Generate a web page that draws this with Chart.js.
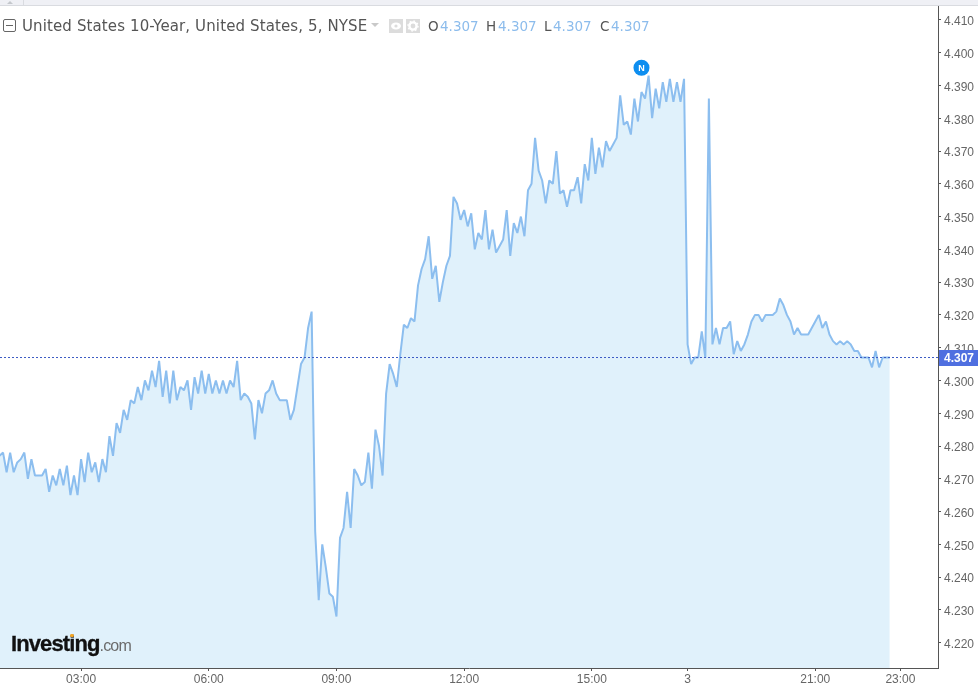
<!DOCTYPE html>
<html>
<head>
<meta charset="utf-8">
<title>United States 10-Year</title>
<script src="https://cdn.jsdelivr.net/npm/chart.js@4/dist/chart.umd.min.js"></script>
<style>
    html, body { margin: 0; padding: 0; background: #fff; overflow: hidden; }
    #wrap { position: relative; width: 978px; height: 685px; }
    canvas { position: absolute; left: 0; top: 0; }
    .topbar { position: absolute; left: 0; top: 0; width: 978px; height: 5px; background: #eff0f5; border-bottom: 1px solid #d9dbe0; }
    .topbar i { position: absolute; left: 23px; top: 0; width: 1px; height: 5px; background: #d9dbe0; }
    .topbar b { position: absolute; left: 7px; top: 1px; border: 3px solid transparent; border-top: 0; border-bottom: 3px solid #c4c7cc; }
    .head { position: absolute; top: 16px; height: 20px; line-height: 20px; font-family: "DejaVu Sans", sans-serif; font-size: 15px; letter-spacing: 0.12px; color: #555; white-space: nowrap; }
    .ohlc { font-size: 13.5px; letter-spacing: 0; }
    .val { color: #8cbcec; }
    .collapse { position: absolute; left: 3px; top: 19px; width: 11px; height: 11px; border: 1px solid #666; border-radius: 2px; }
    .collapse i { position: absolute; left: 2px; top: 5px; width: 7px; height: 1px; background: #666; }
    .caret { position: absolute; left: 371px; top: 23px; border: 4px solid transparent; border-top: 4px solid #c9c9c9; border-bottom: 0; }
    .btn { position: absolute; top: 19px; width: 14px; height: 14px; background: #dcdcdc; }
    .logo { position: absolute; left: 11px; top: 630px; height: 28px; line-height: 28px; white-space: nowrap; font-family: "Liberation Sans", sans-serif; }
    .logo .name { font-size: 22px; font-weight: bold; color: #111; letter-spacing: -0.9px; -webkit-text-stroke: 0.3px #111; }
    .logo .com { font-size: 16px; color: #6b6b6b; letter-spacing: -0.8px; }
    .logo .dot { position: absolute; left: 59px; top: 4px; width: 4px; height: 3px; background: #f5a623; border-radius: 2px; }
</style>
</head>
<body>
<div id="wrap">
    <canvas id="yieldChart" width="978" height="685"></canvas>
    <div class="topbar"><b></b><i></i></div>
    <div class="collapse"><i></i></div>
    <div class="head" style="left:22px">United States 10-Year, United States, 5, NYSE</div>
    <div class="caret"></div>
    <div class="btn" style="left:389px">
        <svg width="14" height="14"><ellipse cx="7" cy="7" rx="5" ry="3.5" fill="#fff"/><circle cx="7" cy="7" r="1.6" fill="#dcdcdc"/></svg>
    </div>
    <div class="btn" style="left:406px">
        <svg width="14" height="14"><circle cx="7" cy="7" r="3.6" fill="none" stroke="#fff" stroke-width="2.4"/><circle cx="7" cy="7" r="5" fill="none" stroke="#fff" stroke-width="1.4" stroke-dasharray="1.6 2.3"/></svg>
    </div>
    <div class="head ohlc" style="left:428px">O</div><div class="head ohlc val" style="left:440px">4.307</div>
    <div class="head ohlc" style="left:486px">H</div><div class="head ohlc val" style="left:498px">4.307</div>
    <div class="head ohlc" style="left:544px">L</div><div class="head ohlc val" style="left:553px">4.307</div>
    <div class="head ohlc" style="left:600px">C</div><div class="head ohlc val" style="left:611px">4.307</div>
    <div class="logo"><span class="name">Investing</span><span class="com">.com</span><div class="dot"></div></div>
</div>
<script>
// 5 minute closes, one per bar
const closeValues = [
    4.277, 4.278, 4.272, 4.278, 4.272, 4.275, 4.276, 4.278, 4.270, 4.276,
    4.271, 4.271, 4.271, 4.273, 4.266, 4.271, 4.268, 4.273, 4.268, 4.274,
    4.265, 4.271, 4.265, 4.276, 4.269, 4.278, 4.272, 4.275, 4.269, 4.276,
    4.272, 4.283, 4.277, 4.287, 4.284, 4.291, 4.288, 4.294, 4.293, 4.298,
    4.294, 4.300, 4.297, 4.303, 4.298, 4.306, 4.295, 4.303, 4.293, 4.303,
    4.294, 4.298, 4.297, 4.300, 4.291, 4.301, 4.296, 4.303, 4.296, 4.302,
    4.296, 4.300, 4.296, 4.300, 4.296, 4.300, 4.298, 4.306, 4.294, 4.296,
    4.295, 4.293, 4.282, 4.294, 4.290, 4.296, 4.297, 4.300, 4.296, 4.294,
    4.294, 4.294, 4.288, 4.291, 4.298, 4.305, 4.307, 4.316, 4.321, 4.254,
    4.233, 4.250, 4.243, 4.235, 4.234, 4.228, 4.252, 4.255, 4.266, 4.255,
    4.273, 4.271, 4.268, 4.269, 4.278, 4.267, 4.285, 4.280, 4.271, 4.296,
    4.305, 4.302, 4.298, 4.308, 4.317, 4.316, 4.319, 4.318, 4.329, 4.334,
    4.337, 4.344, 4.331, 4.335, 4.324, 4.330, 4.335, 4.338, 4.356, 4.354,
    4.349, 4.352, 4.347, 4.351, 4.340, 4.345, 4.343, 4.352, 4.340, 4.346,
    4.339, 4.341, 4.343, 4.352, 4.338, 4.348, 4.345, 4.350, 4.344, 4.358,
    4.360, 4.374, 4.364, 4.361, 4.354, 4.361, 4.360, 4.370, 4.357, 4.358,
    4.353, 4.358, 4.358, 4.362, 4.354, 4.366, 4.361, 4.374, 4.363, 4.371,
    4.365, 4.373, 4.370, 4.372, 4.374, 4.387, 4.378, 4.379, 4.375, 4.386,
    4.379, 4.388, 4.386, 4.393, 4.380, 4.389, 4.383, 4.391, 4.385, 4.392,
    4.385, 4.391, 4.385, 4.392, 4.311, 4.305, 4.307, 4.307, 4.315, 4.307,
    4.386, 4.311, 4.316, 4.311, 4.316, 4.316, 4.318, 4.308, 4.312, 4.309,
    4.311, 4.314, 4.318, 4.320, 4.320, 4.318, 4.320, 4.320, 4.320, 4.321,
    4.325, 4.323, 4.320, 4.318, 4.314, 4.316, 4.314, 4.314, 4.314, 4.316,
    4.318, 4.320, 4.316, 4.318, 4.314, 4.312, 4.311, 4.312, 4.311, 4.312,
    4.311, 4.309, 4.309, 4.307, 4.307, 4.307, 4.304, 4.309, 4.304, 4.307,
    4.307, 4.307
];

// time axis labels and the bar each one sits on
const xTickLabels = ['03:00', '06:00', '09:00', '12:00', '15:00', '3', '21:00', '23:00'];
const xTickBars = [23, 59, 95, 131, 167, 194, 230, 254];

const yTickValues = [4.22, 4.23, 4.24, 4.25, 4.26, 4.27, 4.28, 4.29, 4.30, 4.31, 4.32, 4.33, 4.34, 4.35, 4.36, 4.37, 4.38, 4.39, 4.40, 4.41];

const lastPrice = 4.307;
const newsBar = 181;
const newsLevel = 4.3954;

const xMin = 0.14, xMax = 264.6;
// range chosen so the last price line lands on a whole pixel row
const yMin = 4.21228, yMax = 4.41454;

// labels hanging over the ends must not shrink the plot
function noLabelPadding(s) {
    s.paddingLeft = s.paddingRight = s.paddingTop = s.paddingBottom = 0;
}

// price tag on the axis and the letter inside the news marker
const overlays = {
    id: 'overlays',
    afterDraw(chart) {
        const { ctx, scales: { x, y } } = chart;
        const py = Math.round(y.getPixelForValue(lastPrice));
        ctx.save();
        ctx.fillStyle = '#4f6fe0';
        ctx.fillRect(x.right + 1, py - 8, 39, 16);
        ctx.fillStyle = '#fff';
        ctx.font = 'bold 12px "Liberation Sans"';
        ctx.textAlign = 'left';
        ctx.textBaseline = 'middle';
        ctx.fillText(lastPrice.toFixed(3), x.right + 6, py + 0.5);

        ctx.font = 'bold 9px "Liberation Sans"';
        ctx.textAlign = 'center';
        ctx.fillText('N', x.getPixelForValue(newsBar), y.getPixelForValue(newsLevel) + 0.5);
        ctx.restore();
    }
};

new Chart(document.getElementById('yieldChart'), {
    type: 'line',
    data: {
        datasets: [
            {
                label: 'News',
                data: [{ x: newsBar, y: newsLevel }],
                showLine: false,
                pointRadius: 8,
                pointBackgroundColor: '#0d8ef0',
                pointBorderWidth: 0,
                clip: false
            },
            {
                label: 'Last',
                data: [{ x: xMin, y: lastPrice }, { x: xMax, y: lastPrice }],
                borderColor: '#3d5bc4',
                borderWidth: 1,
                borderDash: [2, 2],
                pointRadius: 0,
                fill: false
            },
            {
                label: 'United States 10-Year',
                data: closeValues.map((v, i) => ({ x: i, y: v })),
                borderColor: '#8cbeef',
                backgroundColor: '#e0f1fb',
                borderWidth: 2,
                borderJoinStyle: 'bevel',
                pointRadius: 0,
                tension: 0,
                fill: 'start'
            }
        ]
    },
    options: {
        responsive: false,
        animation: false,
        // the news marker's radius would otherwise inset the whole plot
        layout: { autoPadding: false, padding: { top: 5, left: 0, right: 0, bottom: 0 } },
        plugins: { legend: { display: false }, tooltip: { enabled: false } },
        scales: {
            x: {
                type: 'linear',
                min: xMin,
                max: xMax,
                afterFit: s => { s.height = 17; noLabelPadding(s); },
                afterBuildTicks: s => { s.ticks = xTickBars.map(b => ({ value: b })); },
                grid: { drawOnChartArea: false, drawTicks: true, tickLength: 3, color: '#555' },
                border: { color: '#555', width: 1 },
                ticks: {
                    autoSkip: false,
                    maxRotation: 0,
                    padding: 1,
                    color: '#666',
                    font: { family: '"Liberation Sans"', size: 12 },
                    callback: v => xTickLabels[xTickBars.indexOf(v)]
                }
            },
            y: {
                position: 'right',
                min: yMin,
                max: yMax,
                afterFit: s => { s.width = 40; noLabelPadding(s); },
                afterBuildTicks: s => { s.ticks = yTickValues.map(v => ({ value: v })); },
                grid: { drawOnChartArea: false, drawTicks: true, tickLength: 3, color: '#555' },
                border: { color: '#555', width: 1 },
                ticks: {
                    autoSkip: false,
                    padding: 3,
                    labelOffset: 2,
                    crossAlign: 'near',
                    color: '#666',
                    font: { family: '"Liberation Sans"', size: 12 },
                    callback: v => v.toFixed(3)
                }
            }
        }
    },
    plugins: [overlays]
});
</script>
</body>
</html>
